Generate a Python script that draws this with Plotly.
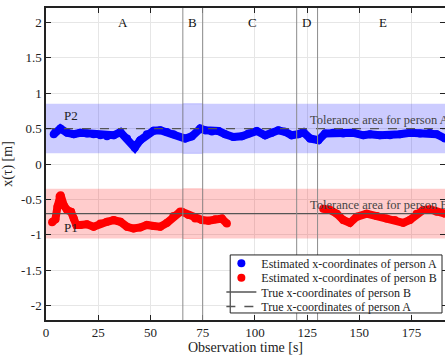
import plotly.graph_objects as go

# Estimated x-coordinates of person A (time [s], x [m])
t_a = [3.7, 4.5, 6.9, 10.1, 13.3, 16.4, 19.6, 22.8, 26.0, 29.2, 32.4, 35.6, 38.8,
       42.5, 45.1, 48.3, 51.5, 54.7, 57.9, 61.0, 66.6, 69.8, 73.8, 76.2, 79.4,
       82.6, 85.8, 89.7, 93.7, 96.9, 100.9, 104.9, 108.1, 111.2, 114.4, 117.6,
       120.8, 123.2, 126.4, 130.4, 133.6, 137.5, 142.3, 147.1, 151.9, 155.1,
       159.8, 164.6, 169.4, 174.2, 179.0, 183.7, 187.0, 191.0]
x_a = [0.42, 0.45, 0.50, 0.44, 0.42, 0.44, 0.43, 0.42, 0.405, 0.39, 0.405, 0.45, 0.36,
       0.23, 0.335, 0.42, 0.47, 0.475, 0.45, 0.42, 0.36, 0.39, 0.50, 0.475, 0.46,
       0.465, 0.42, 0.38, 0.39, 0.43, 0.465, 0.405, 0.44, 0.475, 0.455, 0.405,
       0.42, 0.45, 0.36, 0.335, 0.43, 0.44, 0.43, 0.44, 0.405, 0.42,
       0.405, 0.405, 0.42, 0.44, 0.43, 0.44, 0.42, 0.36]

# Estimated x-coordinates of person B, first segment
t_b1 = [2.9, 4.5, 5.5, 6.5, 7.0, 8.5, 10.1, 12.0, 13.3, 14.5, 16.4, 19.6, 22.8,
        26.0, 29.2, 32.4, 35.6, 38.8, 41.9, 45.1, 48.3, 51.5, 54.7, 57.9, 61.0,
        64.2, 65.0, 68.2, 71.4, 74.6, 77.8, 81.0, 84.2, 86.6]
x_b1 = [-0.82, -0.78, -0.60, -0.46, -0.44, -0.58, -0.65, -0.675, -0.77, -0.86, -0.86,
        -0.85, -0.885, -0.84, -0.815, -0.79, -0.815, -0.885, -0.91, -0.895, -0.86,
        -0.875, -0.885, -0.83, -0.735, -0.675, -0.675, -0.72, -0.77, -0.79, -0.80,
        -0.78, -0.77, -0.84]

# Estimated x-coordinates of person B, second segment
t_b2 = [132.7, 136.0, 139.2, 142.3, 145.5, 148.7, 153.5, 158.3, 163.0, 167.0,
        171.0, 174.2, 177.4, 180.5, 183.7, 187.0, 191.0]
x_b2 = [-0.63, -0.65, -0.70, -0.79, -0.83, -0.745, -0.70, -0.735, -0.77, -0.79,
        -0.83, -0.79, -0.70, -0.65, -0.64, -0.675, -0.70]

# True positions and tolerance half-width
true_a = 0.5
true_b = -0.7
tolerance = 0.35

# Phase boundaries and phase labels
phase_bounds = [65.5, 75, 120, 130]
phase_names = ["A", "B", "C", "D", "E"]
phase_centers = [36.8, 70.1, 98.8, 124.8, 161.4]

x_ticks = [0, 25, 50, 75, 100, 125, 150, 175]
y_ticks = [-2, -1.5, -1, -0.5, 0, 0.5, 1, 1.5, 2]
y_tick_text = ["-2", "-1.5", "-1", "-0.5", "0", "0.5", "1", "1.5", "2"]

t_range = [0, 191]
FONT = "Liberation Serif, Times New Roman, serif"

fig = go.Figure()

# Estimated tracks drawn as thick dotted paths
fig.add_trace(go.Scatter(x=t_a, y=x_a, mode="lines+markers",
                         line=dict(color="#0000ff", width=8),
                         marker=dict(color="#0000ff", size=8), showlegend=False))
fig.add_trace(go.Scatter(x=t_b1, y=x_b1, mode="lines+markers",
                         line=dict(color="#ff0000", width=8),
                         marker=dict(color="#ff0000", size=8), showlegend=False))
fig.add_trace(go.Scatter(x=t_b2, y=x_b2, mode="lines+markers",
                         line=dict(color="#ff0000", width=8),
                         marker=dict(color="#ff0000", size=8), showlegend=False))

# True positions
fig.add_trace(go.Scatter(x=t_range, y=[true_b, true_b], mode="lines",
                         line=dict(color="#555555", width=1.2), showlegend=False))
fig.add_trace(go.Scatter(x=t_range, y=[true_a, true_a], mode="lines",
                         line=dict(color="#555555", width=1.2, dash="dash"),
                         showlegend=False))

# Legend entries, one legend per row so the rows sit tightly together
legend_rows = [
    dict(name="Estimated x-coordinates of person A", mode="markers",
         marker=dict(color="#0000ff", size=8)),
    dict(name="Estimated x-coordinates of person B", mode="markers",
         marker=dict(color="#ff0000", size=8)),
    dict(name="True x-coordinates of person B", mode="lines",
         line=dict(color="#555555", width=1.5)),
    dict(name="True x-coordinates of person A", mode="lines",
         line=dict(color="#555555", width=1.5, dash="dash")),
]
row_centers = [0.1815, 0.1355, 0.0895, 0.0435]
legend_layouts = {}
for i, (row, yc) in enumerate(zip(legend_rows, row_centers)):
    key = "legend" if i == 0 else f"legend{i + 1}"
    fig.add_trace(go.Scatter(x=[None], y=[None], legend=key, **row))
    legend_layouts[key] = dict(x=0.4395, y=yc, xanchor="left", yanchor="middle",
                               bgcolor="rgba(0,0,0,0)", borderwidth=0,
                               font=dict(family=FONT, size=12, color="#222"),
                               itemwidth=30)

shapes = []
# Tolerance bands
for center, rgb in [(true_a, "0,0,255"), (true_b, "255,0,0")]:
    shapes.append(dict(type="rect", xref="x", yref="y", layer="between",
                       x0=t_range[0], x1=t_range[1],
                       y0=center - tolerance, y1=center + tolerance,
                       fillcolor=f"rgba({rgb},0.2)", line=dict(width=0)))
    # outline of the phase B section of the band
    shapes.append(dict(type="rect", xref="x", yref="y", layer="between",
                       x0=phase_bounds[0], x1=phase_bounds[1],
                       y0=center - tolerance, y1=center + tolerance,
                       fillcolor="rgba(0,0,0,0)",
                       line=dict(width=1, color=f"rgba({rgb},0.18)")))
# Phase boundaries
for b in phase_bounds:
    shapes.append(dict(type="line", xref="x", yref="paper", layer="above",
                       x0=b, x1=b, y0=0, y1=1,
                       line=dict(color="#8c8c8c", width=1)))
# Legend frame
shapes.append(dict(type="rect", xref="paper", yref="paper", layer="above",
                   x0=0.4617, x1=0.9925, y0=0.0225, y1=0.2085,
                   fillcolor="white", line=dict(color="#222", width=1)))

annotations = []
for name, c in zip(phase_names, phase_centers):
    annotations.append(dict(x=c, y=2.0, xref="x", yref="y", text=name,
                            showarrow=False, font=dict(size=13, color="#111")))
annotations += [
    dict(x=7.6, y=0.69, text="P2", showarrow=False, xanchor="left",
         font=dict(size=13, color="#222")),
    dict(x=7.7, y=-0.89, text="P1", showarrow=False, xanchor="left",
         font=dict(size=13, color="#222")),
    dict(x=125.5, y=0.62, text="Tolerance area for person A", showarrow=False,
         xanchor="left", font=dict(size=12.5, color="#444")),
    dict(x=125.5, y=-0.58, text="Tolerance area for person B", showarrow=False,
         xanchor="left", font=dict(size=12.5, color="#444")),
]

axis_common = dict(showline=True, linecolor="#222", linewidth=1.5, mirror="ticks",
                   ticks="inside", ticklen=5, tickcolor="#222", tickwidth=1,
                   showgrid=True, gridcolor="#e6e6e6", gridwidth=1, zeroline=False,
                   tickfont=dict(family=FONT, size=13, color="#222"))

fig.update_layout(
    width=445, height=356,
    margin=dict(l=46, r=0, t=8, b=36, autoexpand=False),
    paper_bgcolor="white", plot_bgcolor="white",
    font=dict(family=FONT, size=13, color="#222"),
    shapes=shapes, annotations=annotations,
    xaxis=dict(range=t_range, tickvals=x_ticks,
               title=dict(text="Observation time [s]", standoff=0,
                          font=dict(family=FONT, size=14)),
               **axis_common),
    yaxis=dict(range=[-2.2, 2.2], tickvals=y_ticks, ticktext=y_tick_text,
               title=dict(text="x(τ) [m]", standoff=6,
                          font=dict(family=FONT, size=14)),
               **axis_common),
    **legend_layouts,
)

fig.write_html("out.html")
